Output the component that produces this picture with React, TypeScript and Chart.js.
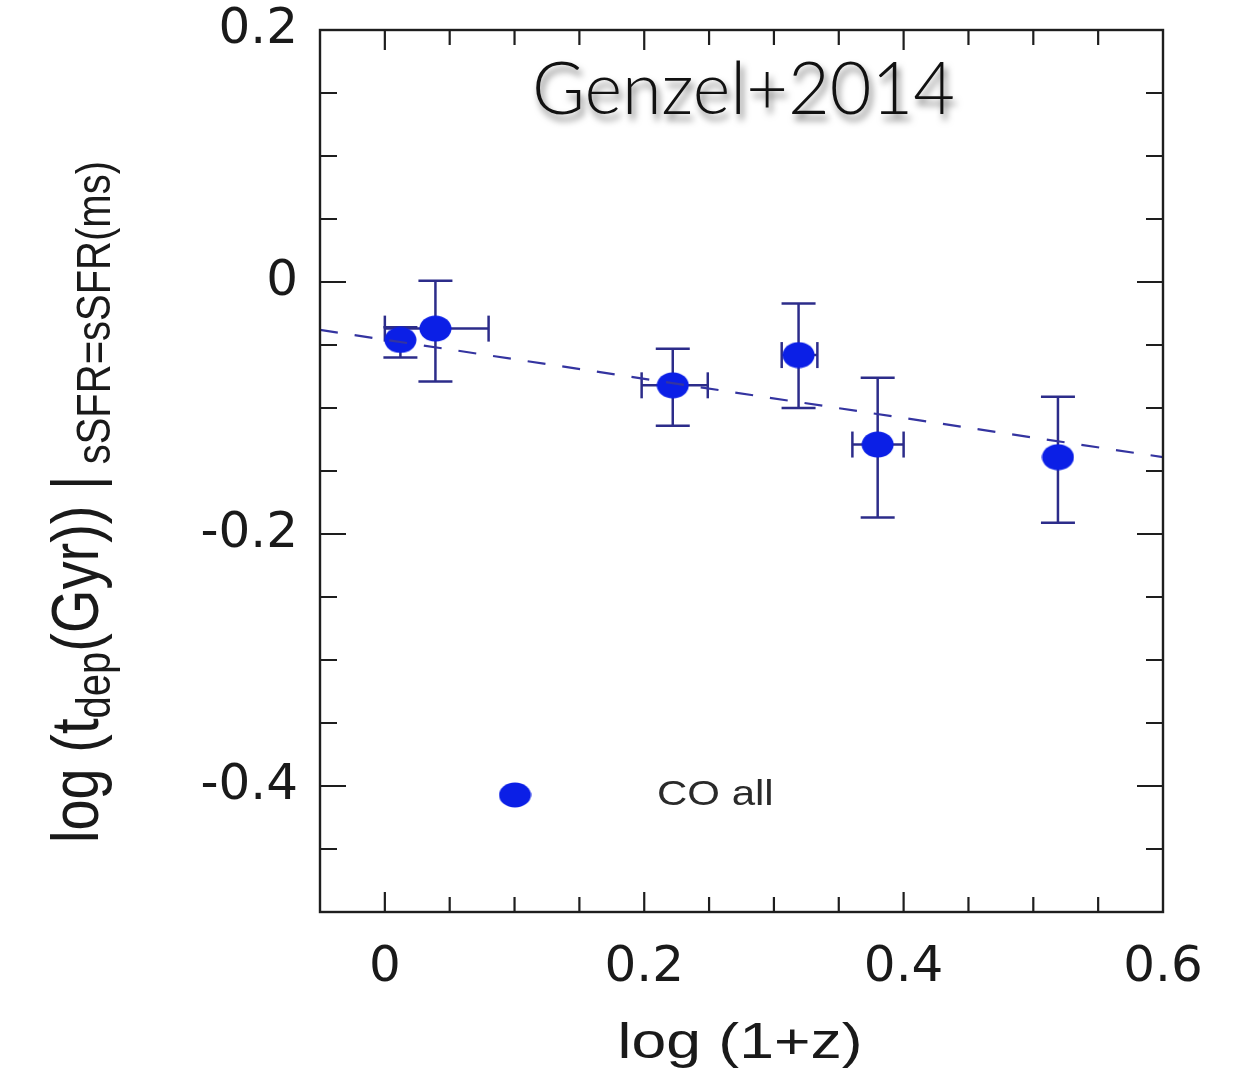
import { useEffect, useRef } from 'react';
import { Chart, registerables } from 'chart.js';

Chart.register(...registerables);

// ---- data ----
const redshiftX = [0.012, 0.039, 0.222, 0.319, 0.38, 0.519];
const depletionY = [-0.046, -0.037, -0.082, -0.058, -0.129, -0.139];
const yErrLow = [-0.06, -0.079, -0.114, -0.1, -0.187, -0.191];
const yErrHigh = [-0.036, 0.001, -0.053, -0.017, -0.076, -0.091];
const xErrLow = [NaN, 0.0, 0.198, 0.306, 0.3605, NaN];
const xErrHigh = [NaN, 0.08, 0.249, 0.3335, 0.4, NaN];
const fitX = [-0.05, 0.6];
const fitY = [-0.038, -0.139];
const xTickValues = [0, 0.2, 0.4, 0.6];
const xTickLabels = ['0', '0.2', '0.4', '0.6'];
const yTickValues = [0.2, 0, -0.2, -0.4];
const yTickLabels = ['0.2', '0', '-0.2', '-0.4'];
const legendLabel = 'CO all';
const annotationText = 'Genzel+2014';
const xTitle = 'log (1+z)';

const BLUE = '#0b1fe6';
const NAVY = '#2c2c8a';
const SX = 1.2; // horizontal stretch of the original figure

function makeEllipse(w: number, h: number) {
  const c = document.createElement('canvas');
  c.width = w;
  c.height = h;
  const g = c.getContext('2d')!;
  g.fillStyle = BLUE;
  g.beginPath();
  g.ellipse(w / 2, h / 2, w / 2 - 0.5, h / 2 - 0.5, 0, 0, Math.PI * 2);
  g.fill();
  return c;
}

function labelFor(v: number, values: number[], labels: string[]) {
  for (let i = 0; i < values.length; i++) {
    if (Math.abs(v - values[i]) < 1e-6) return labels[i];
  }
  return '';
}

function isMajor(v: number) {
  const r = v / 0.2;
  return Math.abs(r - Math.round(r)) < 1e-6;
}

const decorPlugin = {
  id: 'decor',
  beforeDatasetsDraw(chart: any) {
    const { ctx } = chart;
    const xs = chart.scales.x;
    const ys = chart.scales.y;
    ctx.save();
    ctx.strokeStyle = NAVY;
    ctx.lineWidth = 2.5;
    const line = (a: number, b: number, c: number, d: number) => {
      ctx.beginPath();
      ctx.moveTo(a, b);
      ctx.lineTo(c, d);
      ctx.stroke();
    };
    for (let i = 0; i < redshiftX.length; i++) {
      const px = xs.getPixelForValue(redshiftX[i]);
      const py = ys.getPixelForValue(depletionY[i]);
      const top = ys.getPixelForValue(yErrHigh[i]);
      const bot = ys.getPixelForValue(yErrLow[i]);
      line(px, top, px, bot);
      line(px - 17, top, px + 17, top);
      line(px - 17, bot, px + 17, bot);
      if (!isNaN(xErrLow[i])) {
        const l = xs.getPixelForValue(xErrLow[i]);
        const r = xs.getPixelForValue(xErrHigh[i]);
        line(l, py, r, py);
        line(l, py - 13, l, py + 13);
        line(r, py - 13, r, py + 13);
      }
    }
    ctx.restore();
  },
  afterDraw(chart: any) {
    const { ctx, chartArea } = chart;
    const xs = chart.scales.x;
    const ys = chart.scales.y;
    const { left, right, top, bottom } = chartArea;
    ctx.save();
    // frame
    ctx.strokeStyle = '#1e1e1e';
    ctx.lineWidth = 2.4;
    ctx.strokeRect(left, top, right - left, bottom - top);
    // inside ticks
    ctx.lineWidth = 2.2;
    xs.ticks.forEach((t: any) => {
      const px = xs.getPixelForValue(t.value);
      if (px <= left + 1 || px >= right - 1) return;
      const len = isMajor(t.value) ? 20 : 15;
      ctx.beginPath();
      ctx.moveTo(px, bottom);
      ctx.lineTo(px, bottom - len);
      ctx.moveTo(px, top);
      ctx.lineTo(px, top + len);
      ctx.stroke();
    });
    ys.ticks.forEach((t: any) => {
      const py = ys.getPixelForValue(t.value);
      if (py <= top + 1 || py >= bottom - 1) return;
      const len = isMajor(t.value) ? 26 : 17;
      ctx.beginPath();
      ctx.moveTo(left, py);
      ctx.lineTo(left + len, py);
      ctx.moveTo(right, py);
      ctx.lineTo(right - len, py);
      ctx.stroke();
    });

    // x title
    ctx.fillStyle = '#1a1a1a';
    ctx.save();
    ctx.translate(740, 1058);
    ctx.scale(1.25, 1);
    ctx.font = '50px "Liberation Sans", Arial, sans-serif';
    ctx.textAlign = 'center';
    ctx.textBaseline = 'alphabetic';
    ctx.fillText(xTitle, 0, 0);
    ctx.restore();

    // y title (rotated, with subscripts)
    ctx.save();
    ctx.translate(98, 502);
    ctx.scale(SX, 1);
    ctx.rotate(-Math.PI / 2);
    ctx.textBaseline = 'alphabetic';
    ctx.textAlign = 'left';
    const big = '56px "Liberation Sans", Arial, sans-serif';
    const small = '40px "Liberation Sans", Arial, sans-serif';
    const pieces: [string, string, number][] = [
      ['log (t', big, 0],
      ['dep', small, 10],
      ['(Gyr))', big, 0],
      [' |', big, 0],
      [' sSFR=sSFR(ms)', small, 10],
    ];
    let total = 0;
    pieces.forEach(([s, f]) => {
      ctx.font = f;
      total += ctx.measureText(s).width;
    });
    let u = -total / 2;
    pieces.forEach(([s, f, dv]) => {
      ctx.font = f;
      ctx.fillText(s, u, dv);
      u += ctx.measureText(s).width;
    });
    ctx.restore();

    // legend
    const dot = makeEllipse(33, 26);
    ctx.drawImage(dot, 515 - 16.5, 795 - 13);
    ctx.save();
    ctx.translate(657, 795);
    ctx.scale(SX, 1);
    ctx.fillStyle = '#2a2a2a';
    ctx.font = '35px "Liberation Sans", Arial, sans-serif';
    ctx.textAlign = 'left';
    ctx.textBaseline = 'middle';
    ctx.fillText(legendLabel, 0, 0);
    ctx.restore();

    // annotation
    ctx.save();
    ctx.font = '300 72px Lato, Roboto, "Liberation Sans", sans-serif';
    ctx.textAlign = 'left';
    ctx.textBaseline = 'alphabetic';
    ctx.shadowColor = 'rgba(0,0,0,0.55)';
    ctx.shadowBlur = 7;
    ctx.shadowOffsetX = 3;
    ctx.shadowOffsetY = 6;
    ctx.fillStyle = '#111111';
    ctx.fillText(annotationText, 532, 114);
    ctx.restore();

    ctx.restore();
  },
};

export default function App() {
  const ref = useRef<HTMLCanvasElement | null>(null);
  useEffect(() => {
    if (!ref.current) return;
    const marker = makeEllipse(33, 27);
    const tickFont = { family: '"DejaVu Sans", sans-serif', size: 50 };
    const chart = new Chart(ref.current, {
      type: 'scatter',
      data: {
        datasets: [
          {
            label: 'fit',
            data: fitX.map((x, i) => ({ x, y: fitY[i] })),
            showLine: true,
            borderColor: '#3434a0',
            borderWidth: 2.2,
            borderDash: [18, 17],
            pointRadius: 0,
            fill: false,
          } as any,
          {
            label: legendLabel,
            data: redshiftX.map((x, i) => ({ x, y: depletionY[i] })),
            pointStyle: marker,
            pointRadius: 14,
            backgroundColor: BLUE,
            borderColor: BLUE,
          } as any,
        ],
      },
      options: {
        animation: false,
        responsive: false,
        devicePixelRatio: 1,
        layout: { padding: { left: 0, top: 30, right: 75, bottom: 0 } },
        plugins: { legend: { display: false }, tooltip: { enabled: false } },
        scales: {
          x: {
            type: 'linear',
            min: -0.05,
            max: 0.6,
            grid: { display: false, drawTicks: false },
            border: { display: false },
            ticks: {
              stepSize: 0.05,
              autoSkip: false,
              maxRotation: 0,
              padding: 26,
              color: '#1a1a1a',
              font: tickFont,
              callback: (v: any) => labelFor(Number(v), xTickValues, xTickLabels),
            },
            afterFit: (s: any) => {
              s.height = 180;
            },
          },
          y: {
            type: 'linear',
            min: -0.5,
            max: 0.2,
            grid: { display: false, drawTicks: false },
            border: { display: false },
            ticks: {
              stepSize: 0.05,
              autoSkip: false,
              padding: 22,
              color: '#1a1a1a',
              font: { ...tickFont, lineHeight: 0.1 },
              callback: (v: any) => labelFor(Number(v), yTickValues, yTickLabels),
            },
            afterFit: (s: any) => {
              s.width = 320;
            },
          },
        },
      } as any,
      plugins: [decorPlugin],
    });
    return () => chart.destroy();
  }, []);
  return (
    <div style={{ position: 'absolute', left: 0, top: 0, width: 1238, height: 1092, background: '#fff' }}>
      <canvas ref={ref} width={1238} height={1092} style={{ width: 1238, height: 1092, display: 'block' }} />
    </div>
  );
}
